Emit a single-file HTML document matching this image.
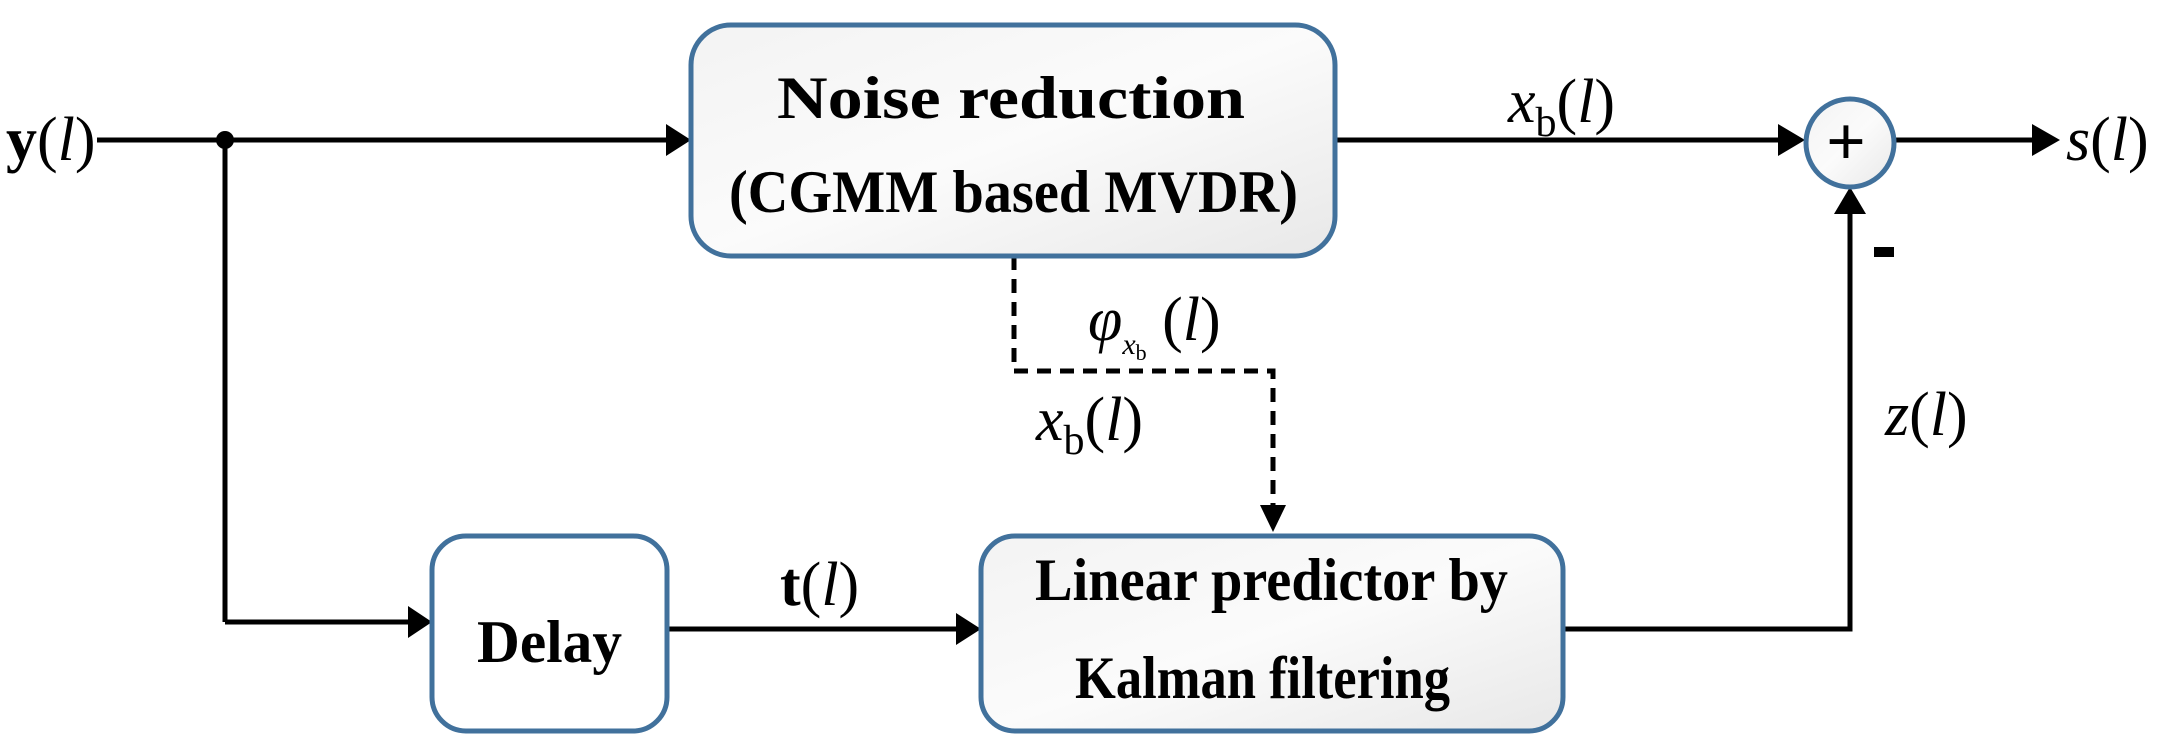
<!DOCTYPE html>
<html><head><meta charset="utf-8"><style>html,body{margin:0;padding:0;background:#fff}svg{display:block}</style></head>
<body>
<svg width="2169" height="742" viewBox="0 0 2169 742" xmlns="http://www.w3.org/2000/svg" font-family="'Liberation Serif', serif">
<defs>
<linearGradient id="g" x1="0" y1="0" x2="1" y2="1"><stop offset="0" stop-color="#f3f3f3"/><stop offset="0.5" stop-color="#fbfbfb"/><stop offset="1" stop-color="#e8e8e8"/></linearGradient>
</defs>
<g stroke="#000" stroke-width="5" fill="none">
<line x1="97" y1="140" x2="668" y2="140"/>
<line x1="225" y1="140" x2="225" y2="622"/>
<line x1="225" y1="622" x2="410" y2="622"/>
<line x1="667" y1="629" x2="960" y2="629"/>
<line x1="1335" y1="140" x2="1780" y2="140"/>
<line x1="1895" y1="140" x2="2034" y2="140"/>
<polyline points="1563,629 1850,629 1850,212"/>
<polyline points="1014,256 1014,371 1273,371 1273,505" stroke-dasharray="14,9"/>
</g>
<g fill="#000">
<circle cx="225" cy="140" r="9"/>
<polygon points="666,124 691,140 666,156"/>
<polygon points="408,606 432,622 408,638"/>
<polygon points="956,613 981,629 956,645"/>
<polygon points="1778,124 1805,140 1778,156"/>
<polygon points="2032,124 2060,140 2032,156"/>
<polygon points="1834,214 1850,187 1866,214"/>
<polygon points="1260,505 1273,532 1286,505"/>
</g>
<g stroke="#41719c" stroke-width="5">
<rect x="691" y="25" width="644" height="231" rx="40" fill="url(#g)"/>
<rect x="432" y="536" width="235" height="195" rx="34" fill="#fff"/>
<rect x="981" y="536" width="582" height="195" rx="34" fill="url(#g)"/>
<ellipse cx="1850" cy="143" rx="44" ry="44" fill="url(#g)"/>
</g>
<g font-weight="bold" font-size="60" fill="#000">
<text x="777" y="118" textLength="468" lengthAdjust="spacingAndGlyphs">Noise reduction</text>
<text x="729" y="212" textLength="569" lengthAdjust="spacingAndGlyphs">(CGMM based MVDR)</text>
<text x="477" y="662" textLength="145" lengthAdjust="spacingAndGlyphs">Delay</text>
<text x="1035" y="600" textLength="473" lengthAdjust="spacingAndGlyphs">Linear predictor by</text>
<text x="1075" y="698" textLength="375" lengthAdjust="spacingAndGlyphs">Kalman filtering</text>
<text x="1826" y="165" font-size="70">+</text>
<rect x="1874" y="247" width="20" height="10"/>
</g>
<g font-size="62" fill="#000">
<text x="6" y="160"><tspan font-weight="bold">y</tspan>(<tspan font-style="italic">l</tspan>)</text>
<text x="780" y="605"><tspan font-weight="bold">t</tspan>(<tspan font-style="italic">l</tspan>)</text>
<text x="1508" y="122"><tspan font-style="italic">x</tspan><tspan font-size="42" dy="14">b</tspan><tspan dy="-14">(</tspan><tspan font-style="italic">l</tspan>)</text>
<text x="1036" y="440"><tspan font-style="italic">x</tspan><tspan font-size="42" dy="14">b</tspan><tspan dy="-14">(</tspan><tspan font-style="italic">l</tspan>)</text>
<text x="1088" y="340"><tspan font-style="italic">φ</tspan><tspan font-size="30" font-style="italic" dy="14">x</tspan><tspan font-size="22" dy="6">b</tspan><tspan dy="-20"> (</tspan><tspan font-style="italic">l</tspan>)</text>
<text x="2066" y="160"><tspan font-style="italic">s</tspan>(<tspan font-style="italic">l</tspan>)</text>
<text x="1885" y="435"><tspan font-style="italic">z</tspan>(<tspan font-style="italic">l</tspan>)</text>
</g>
</svg>
</body></html>
